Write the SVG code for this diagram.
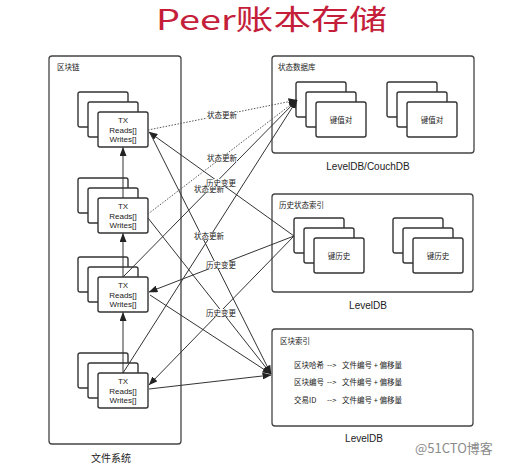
<svg xmlns="http://www.w3.org/2000/svg" width="522" height="465" viewBox="0 0 522 465">
<style>
.box{fill:#fff;stroke:#333;stroke-width:1.4}
.cont{fill:#fff;stroke:#444;stroke-width:1.3}
.t{font-family:"Liberation Sans","Noto Sans CJK SC",sans-serif;font-size:8px;fill:#222}
.c{font-family:"Noto Sans CJK SC",sans-serif;font-size:7.5px;fill:#222}
.big{font-family:"Liberation Sans","Noto Sans CJK SC",sans-serif;font-size:10px;fill:#222}
.ln{stroke:#333;stroke-width:1;fill:none}
.dot{stroke:#555;stroke-width:1;stroke-dasharray:1.5 1.5;fill:none}
.lb{fill:#fff}
</style>
<defs>
<marker id="ah" markerWidth="9" markerHeight="7" refX="8.5" refY="3.5" orient="auto" markerUnits="userSpaceOnUse"><path d="M0,0 L9,3.5 L0,7 z" fill="#222"/></marker>
<g id="stack"><rect class="box" x="0" y="0" width="50" height="35" rx="2"/><rect class="box" x="10" y="10" width="50" height="35" rx="2"/><rect class="box" x="20" y="20" width="50" height="35" rx="2"/></g>
</defs>
<rect width="522" height="465" fill="#fff"/>
<text x="156" y="30" font-family="Noto Sans CJK SC,sans-serif" font-size="28" fill="#c41e3a" textLength="231" lengthAdjust="spacingAndGlyphs">Peer账本存储</text>

<g id="blockchain">
<rect class="cont" x="49" y="56" width="132" height="388" rx="3"/>
<text class="c" x="57" y="70">区块链</text>
<text x="111" y="462" text-anchor="middle" style="font-family:'Noto Sans CJK SC',sans-serif;font-size:10px;fill:#222">文件系统</text>
</g>

<g id="tx1" class="t" text-anchor="middle">
<use href="#stack" x="78" y="92"/>
<text x="123" y="123">TX</text><text x="123" y="133">Reads[]</text><text x="123" y="142">Writes[]</text>
</g>
<g id="tx2" class="t" text-anchor="middle">
<use href="#stack" x="78" y="178"/>
<text x="123" y="209">TX</text><text x="123" y="219">Reads[]</text><text x="123" y="228">Writes[]</text>
</g>
<g id="tx3" class="t" text-anchor="middle">
<use href="#stack" x="78" y="257"/>
<text x="123" y="288">TX</text><text x="123" y="298">Reads[]</text><text x="123" y="307">Writes[]</text>
</g>
<g id="tx4" class="t" text-anchor="middle">
<use href="#stack" x="78" y="353"/>
<text x="123" y="384">TX</text><text x="123" y="394">Reads[]</text><text x="123" y="403">Writes[]</text>
</g>

<g id="statedb">
<rect class="cont" x="272" y="56" width="202" height="97" rx="3"/>
<text class="c" x="278" y="70">状态数据库</text>
<use href="#stack" x="296" y="82"/>
<text class="c" x="341" y="123" text-anchor="middle">键值对</text>
<use href="#stack" x="387" y="82"/>
<text class="c" x="432" y="123" text-anchor="middle">键值对</text>
<text class="big" x="368" y="170" text-anchor="middle">LevelDB/CouchDB</text>
</g>

<g id="history">
<rect class="cont" x="272" y="194" width="201" height="98" rx="3"/>
<text class="c" x="279" y="208">历史状态索引</text>
<use href="#stack" x="294" y="218"/>
<text class="c" x="339" y="259" text-anchor="middle">键历史</text>
<use href="#stack" x="393" y="218"/>
<text class="c" x="438" y="259" text-anchor="middle">键历史</text>
<text class="big" x="368" y="309" text-anchor="middle">LevelDB</text>
</g>

<g id="blockindex">
<rect class="cont" x="272" y="329" width="201" height="97" rx="3"/>
<text class="c" x="280" y="344">区块索引</text>
<text class="c" y="368"><tspan x="294">区块哈希</tspan><tspan x="327">--&gt;</tspan><tspan x="342">文件编号 + 偏移量</tspan></text>
<text class="c" y="385"><tspan x="294">区块编号</tspan><tspan x="327">--&gt;</tspan><tspan x="342">文件编号 + 偏移量</tspan></text>
<text class="c" y="403"><tspan x="294">交易ID</tspan><tspan x="327">--&gt;</tspan><tspan x="342">文件编号 + 偏移量</tspan></text>
<text class="big" x="364" y="442" text-anchor="middle">LevelDB</text>
</g>

<g id="connectors" marker-end="url(#ah)">
<line class="ln" x1="123" y1="198" x2="123" y2="147.5"/>
<line class="ln" x1="123" y1="277" x2="123" y2="233.5"/>
<line class="ln" x1="123" y1="373" x2="123" y2="312.5"/>
<line class="dot" x1="148" y1="130" x2="297" y2="100"/>
<line class="dot" x1="148" y1="214" x2="297" y2="100"/>
<line class="ln" x1="123" y1="277" x2="297" y2="100"/>
<line class="ln" x1="123" y1="373" x2="297" y2="100"/>
<line class="ln" x1="294" y1="236" x2="149" y2="132"/>
<line class="ln" x1="294" y1="236" x2="149" y2="292"/>
<line class="ln" x1="294" y1="236" x2="149" y2="385"/>
<line class="ln" x1="150" y1="133" x2="271" y2="374"/>
<line class="ln" x1="148" y1="218" x2="271" y2="374"/>
<line class="ln" x1="150" y1="295" x2="271" y2="374"/>
<line class="ln" x1="149" y1="389" x2="271" y2="375"/>
</g>

<g id="labels" class="c" text-anchor="middle">
<rect class="lb" x="207" y="111" width="30" height="8"/><text x="222" y="118">状态更新</text>
<rect class="lb" x="207" y="154" width="30" height="8"/><text x="222" y="161">状态更新</text>
<rect class="lb" x="195" y="185" width="28" height="8"/><text x="209" y="192">状态更新</text>
<rect class="lb" x="207" y="179" width="29" height="8"/><text x="221" y="186">历史变更</text>
<rect class="lb" x="195" y="232" width="28" height="8"/><text x="209" y="239">状态更新</text>
<rect class="lb" x="207" y="261" width="29" height="8"/><text x="221" y="268">历史变更</text>
<rect class="lb" x="207" y="309" width="29" height="8"/><text x="221" y="316">历史变更</text>
</g>

<text x="415" y="453" font-family="Noto Sans CJK SC,sans-serif" font-size="13" fill="#8a8a8a">@51CTO博客</text>
</svg>
